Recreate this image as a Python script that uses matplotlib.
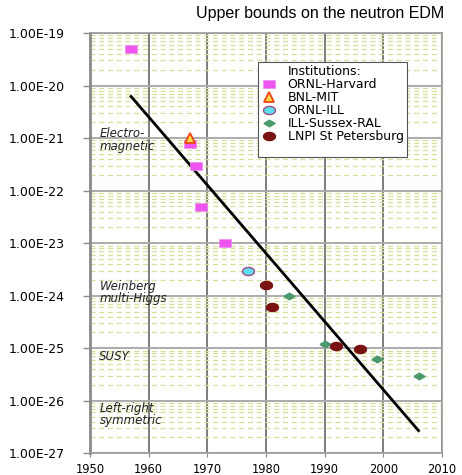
import numpy as np
import matplotlib
matplotlib.use('Agg')
import matplotlib.pyplot as plt
from matplotlib.ticker import FixedLocator, FuncFormatter, LogLocator, NullFormatter

# data
harvard_yr = [1957, 1967, 1968, 1969, 1973]
harvard_d = [5.0e-20, 7.8e-22, 3.0e-22, 4.9e-23, 1.0e-23]
bnl_yr = [1967]
bnl_d = [1.0e-21]
ornl_ill_yr = [1977]
ornl_ill_d = [3.0e-24]
sussex_yr = [1984, 1990, 1999, 2006]
sussex_d = [1.0e-24, 1.2e-25, 6.3e-26, 3.0e-26]
lnpi_yr = [1980, 1981, 1992, 1996]
lnpi_d = [1.6e-24, 6.0e-25, 1.1e-25, 9.7e-26]
trend_yr = [1957, 2006]
trend_d = [6.2e-21, 2.7e-27]

theories = ['Electro-\nmagnetic', 'Weinberg\nmulti-Higgs', 'SUSY', 'Left-right\nsymmetric']
theory_y = [10**-21.04, 10**-23.94, 10**-25.15, 10**-26.26]

# marker shapes (wide rect, ellipse, flat diamond)
rect = [(-1, -0.6), (1, -0.6), (1, 0.6), (-1, 0.6), (-1, -0.6)]
t = np.linspace(0, 2 * np.pi, 40)
ellipse = list(zip(np.cos(t), 0.68 * np.sin(t)))
diamond = [(-1, 0), (0, -0.6), (1, 0), (0, 0.6), (-1, 0)]

fig = plt.figure(figsize=(4.62, 4.75), dpi=100)
ax = fig.add_axes([0.1948, 0.0457, 0.7619, 0.8848])

ax.set_yscale('log')
ax.set_xlim(1950, 2010)
ax.set_ylim(1e-27, 1e-19)

ax.yaxis.set_major_locator(FixedLocator([10.0**k for k in range(-27, -18)]))
ax.yaxis.set_major_formatter(FuncFormatter(lambda v, p: '1.00E%d' % round(np.log10(v))))
ax.yaxis.set_minor_locator(LogLocator(base=10, subs=np.arange(2, 10), numticks=100))
ax.yaxis.set_minor_formatter(NullFormatter())
ax.set_xticks(range(1950, 2011, 10))

ax.grid(which='minor', axis='y', color='#d6df9a', lw=0.9, ls=(0, (4, 3)))
ax.grid(which='major', axis='y', color='#ababab', lw=1.4)
ax.grid(which='major', axis='x', color='#666666', lw=1.2)
ax.set_axisbelow(True)

for s in ['top', 'right', 'bottom']:
    ax.spines[s].set_color('#9a9a9a')
    ax.spines[s].set_linewidth(1.2)
ax.spines['left'].set_color('#8a8a8a')
ax.spines['left'].set_linewidth(2)

ax.tick_params(axis='y', which='major', length=5, width=1, color='#8a8a8a', labelsize=9, pad=13)
ax.tick_params(axis='y', which='minor', length=0)
ax.tick_params(axis='x', length=3, color='#8a8a8a', labelsize=8.3, pad=4)

ax.plot(trend_yr, trend_d, color='black', lw=2, zorder=3)

ax.plot(harvard_yr, harvard_d, ls='none', marker=rect, ms=8.6, color='#ee55ee',
        mec='#f08cf0', mew=0.5, label='ORNL-Harvard', zorder=4)
ax.plot(bnl_yr, bnl_d, ls='none', marker='^', ms=7, mfc='#ffd84a', mec='#ee4411',
        mew=1.3, label='BNL-MIT', zorder=5)
ax.plot(ornl_ill_yr, ornl_ill_d, ls='none', marker=ellipse, ms=8.6, mfc='#5ce0ee',
        mec='#a04a86', mew=1, label='ORNL-ILL', zorder=4)
ax.plot(sussex_yr, sussex_d, ls='none', marker=diamond, ms=8, color='#4b9a6e',
        label='ILL-Sussex-RAL', zorder=4)
ax.plot(lnpi_yr, lnpi_d, ls='none', marker=ellipse, ms=8.6, color='#7b1212',
        label='LNPI St Petersburg', zorder=4)

for txt, yv in zip(theories, theory_y):
    ax.text(1951.6, yv, txt, style='italic', fontsize=8.5, va='center', ha='left',
            linespacing=0.95, color='#222222')

handles, labels = ax.get_legend_handles_labels()
blank = plt.Line2D([], [], ls='none')
leg = ax.legend([blank] + handles + [blank], ['Institutions:'] + labels + [''],
                loc='upper left', bbox_to_anchor=(0.476, 0.932), fontsize=9,
                frameon=True, fancybox=False, edgecolor='#555555', framealpha=1,
                labelspacing=0.0, handlelength=1.2, handletextpad=0.9,
                borderpad=0.3, borderaxespad=0)
leg.get_frame().set_linewidth(0.8)
leg.get_texts()[-1].set_fontsize(4)

fig.text(0.6926, 0.972, 'Upper bounds on the neutron EDM', family='Liberation Sans',
         fontsize=11.5, ha='center', va='center')

fig.savefig('out.png', dpi=100)
